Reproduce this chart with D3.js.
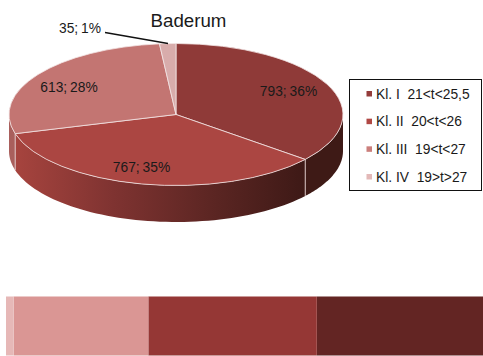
<!DOCTYPE html>
<html><head><meta charset="utf-8">
<script src="https://cdn.jsdelivr.net/npm/d3@7"></script>
<style>html,body{margin:0;padding:0;background:#fff;overflow:hidden}svg{display:block}text{font-family:"Liberation Sans",Arial,sans-serif;fill:#1a1a1a}</style>
</head><body><svg id="c" width="483" height="356"></svg>
<script>
const title = "Baderum";
const categories = ["Kl. I  21<t<25,5","Kl. II  20<t<26","Kl. III  19<t<27","Kl. IV  19>t>27"];
const values = [793,767,613,35];
const percents = [36,35,28,1];
const topColors = ["#8f3a38","#ab4642","#c37572","#d8acab"];
const legendColors = ["#943c3a","#b04844","#cb7f7c","#e3b9b8"];
const barColors = ["#632523","#953735","#da9694","#e6b8b7"];

const svg = d3.select("#c");
const cx=176, cy=114.5, rx=167, ry=71, depth=36.5;
const pts = a => [cx+rx*Math.sin(a), cy-ry*Math.cos(a)];
const arcs = d3.pie().sort(null).value(d=>d)(values);
const defs = svg.append("defs");

const g2 = defs.append("linearGradient").attr("id","w2").attr("gradientUnits","userSpaceOnUse")
  .attr("x1",cx-rx).attr("x2",cx+rx*0.78).attr("y1",0).attr("y2",0);
[[0,"#a9453f"],[0.35,"#7f3331"],[0.7,"#5a2522"],[1,"#3d1916"]].forEach(s=>g2.append("stop").attr("offset",s[0]).attr("stop-color",s[1]));
const wallFill = ["#3e1a16","url(#w2)","#a95f5c","#c09090"];

// side walls: only the front half of the ellipse shows
const lo=Math.PI/2, hi=3*Math.PI/2;
const line=d3.line();
arcs.forEach((a,i)=>{
  const s=Math.max(a.startAngle,lo), e=Math.min(a.endAngle,hi);
  if(s>=e) return;
  const n=60, t=d3.range(n+1).map(k=>s+(e-s)*k/n);
  const up=t.map(pts), down=t.map(pts).map(p=>[p[0],p[1]+depth]).reverse();
  svg.append("path").attr("d",line(up.concat(down))+"Z").attr("fill",wallFill[i]);
});
// wall separators at slice edges
arcs.slice(0,2).forEach(a=>{
  const p=pts(a.endAngle);
  svg.append("line").attr("x1",p[0]).attr("x2",p[0]).attr("y1",p[1]).attr("y2",p[1]+depth)
    .attr("stroke","#e4cfcf").attr("stroke-width",0.9);
});
// top face: unit arc scaled onto the ellipse
const arc=d3.arc().innerRadius(0).outerRadius(1);
svg.append("g").attr("transform",`translate(${cx},${cy}) scale(${rx},${ry})`)
  .selectAll("path").data(arcs).join("path").attr("d",arc)
  .attr("fill",(d,i)=>topColors[i]).attr("stroke","#f2e4e4").attr("stroke-width",0.8)
  .attr("vector-effect","non-scaling-stroke");

// labels
const labelPos=[[288.5,96],[141.5,172],[69,92],[80,33]];
values.forEach((v,i)=>{
  svg.append("text").attr("x",labelPos[i][0]).attr("y",labelPos[i][1]).attr("text-anchor","middle")
   .attr("font-size",13.8).attr("word-spacing",-1).text(`${v}; ${percents[i]}%`);
});
svg.append("line").attr("x1",105).attr("y1",32.5).attr("x2",168).attr("y2",43.5).attr("stroke","#111").attr("stroke-width",1.3);
svg.append("text").attr("x",188.5).attr("y",27).attr("text-anchor","middle").attr("font-size",18.7).text(title);

// legend
svg.append("rect").attr("x",349.5).attr("y",79.5).attr("width",132).attr("height",111)
  .attr("fill","#fff").attr("stroke","#111").attr("stroke-width",1);
const legY=d3.scalePoint().domain(categories).range([94,177]);
categories.forEach((c,i)=>{
  svg.append("rect").attr("x",366.5).attr("y",legY(c)-3).attr("width",5.5).attr("height",5.5).attr("fill",legendColors[i]);
  svg.append("text").attr("x",376).attr("y",legY(c)+4.5).attr("font-size",13.8).attr("xml:space","preserve").style("white-space","pre").text(c);
});

// bottom stacked strip (right end runs off the page)
const x=d3.scaleLinear().domain([0,d3.sum(values)]).range([491,6]);
let acc=0;
values.forEach((v,i)=>{
  svg.append("rect").attr("x",x(acc+v)).attr("y",296.5).attr("width",x(acc)-x(acc+v)).attr("height",59)
    .attr("fill",barColors[i]);
  acc+=v;
});
</script></body></html>
